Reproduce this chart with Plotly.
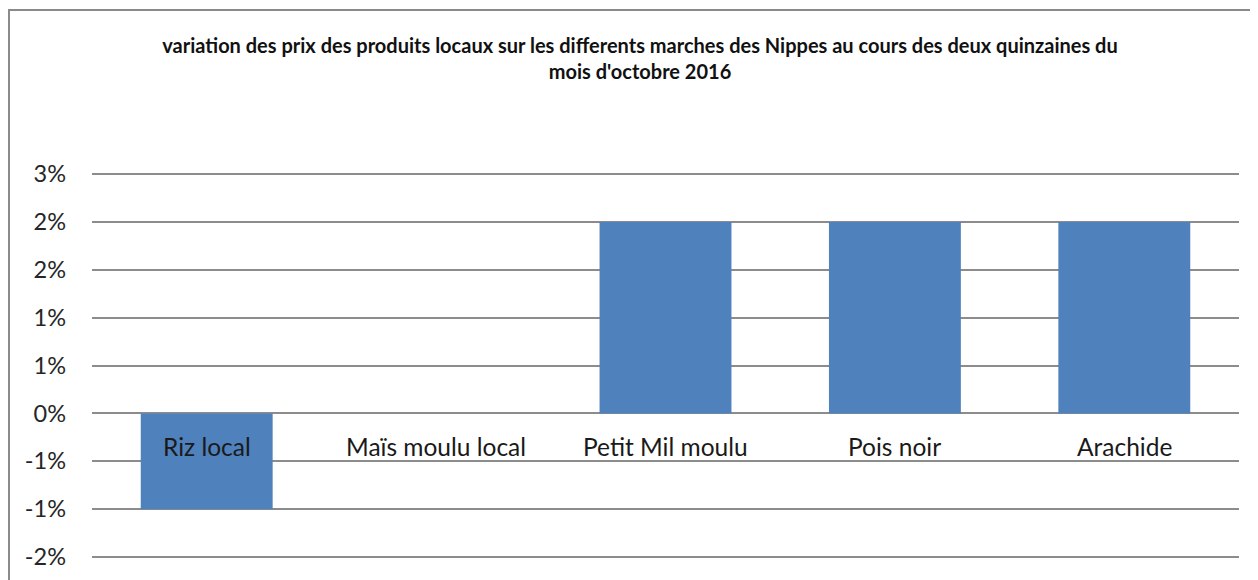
import plotly.graph_objects as go

categories = ["Riz local", "Maïs moulu local", "Petit Mil moulu", "Pois noir", "Arachide"]
variation = [-0.01, 0.0, 0.02, 0.02, 0.02]
tick_values = [0.025, 0.02, 0.015, 0.01, 0.005, 0.0, -0.005, -0.01, -0.015]
tick_labels = ["3%", "2%", "2%", "1%", "1%", "0%", "-1%", "-1%", "-2%"]
title_text = ("variation des prix des produits locaux sur les differents marches des Nippes au cours des deux quinzaines du"
              "<br>mois d'octobre 2016")

# page has an 8px body margin; figure coordinates = page coordinates - 8
OFF = 8
PAD = 4  # extra pixels so edge gridlines are drawn
W, H = 1258, 580
top_px, bot_px = 174 - OFF, 557 - OFF
per_px = (0.025 - (-0.015)) / (bot_px - top_px)
L = 92 - OFF
T = top_px - PAD
R = W - (1239 - OFF)
B = H - (bot_px + PAD)
pw, ph = W - L - R, H - T - B
y_range = [-0.015 - PAD * per_px, 0.025 + PAD * per_px]

fig = go.Figure()
fig.add_trace(go.Bar(
    x=categories, y=variation,
    marker=dict(color="#4F81BD", line=dict(width=0)),
    hoverinfo="x+y",
))

for c in categories:
    fig.add_annotation(x=c, y=-0.0035, xref="x", yref="y", text=c, showarrow=False,
                       font=dict(family="Lato", size=24.5, color="#1a1a1a"),
                       xanchor="center", yanchor="middle")

fig.add_shape(type="rect", xref="paper", yref="paper",
              x0=(9 - OFF - L) / pw, x1=1.2, y0=-0.3, y1=1 + (T - (10 - OFF)) / ph,
              line=dict(color="#8a8a8a", width=2), layer="below")

fig.update_layout(
    width=W, height=H,
    margin=dict(l=L, r=R, t=T, b=B, autoexpand=False),
    paper_bgcolor="white", plot_bgcolor="white",
    bargap=0.425,
    showlegend=False,
    title=dict(text="<b>" + title_text + "</b>", x=(640 - OFF) / W, xref="container", xanchor="center",
               y=1 - (53 - OFF) / H, yref="container", yanchor="middle",
               font=dict(family="Lato", size=20, color="#111111")),
    xaxis=dict(showticklabels=False, showgrid=False, zeroline=False, showline=False, ticks=""),
    yaxis=dict(range=y_range, tickvals=tick_values, ticktext=tick_labels,
               showgrid=True, gridcolor="#8c8c8c", gridwidth=2,
               zeroline=True, zerolinecolor="#8c8c8c", zerolinewidth=2,
               showline=False, ticks="", ticklabelstandoff=25,
               tickfont=dict(family="Lato", size=23.5, color="#262626")),
)

fig.write_html("out.html")
